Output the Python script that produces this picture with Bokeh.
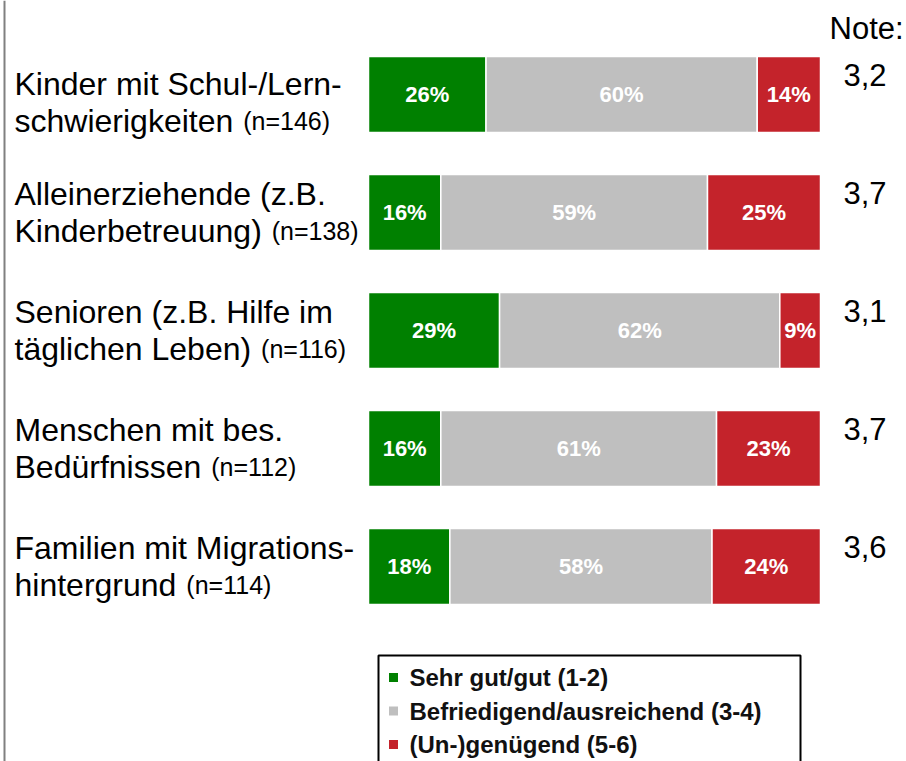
from bokeh.plotting import figure
from bokeh.models import Range1d, ColumnDataSource, Span
from bokeh.embed import file_html
from bokeh.resources import INLINE
from bokeh.core.properties import value

# ---------------- data ----------------
label_line1 = ["Kinder mit Schul-/Lern-", "Alleinerziehende (z.B.", "Senioren (z.B. Hilfe im",
               "Menschen mit bes.", "Familien mit Migrations-"]
label_line2 = ["schwierigkeiten", "Kinderbetreuung)", "täglichen Leben)", "Bedürfnissen", "hintergrund"]
sample_sizes = [146, 138, 116, 112, 114]
sehr_gut = [26, 16, 29, 16, 18]
befriedigend = [60, 59, 62, 61, 58]
ungenuegend = [14, 25, 9, 23, 24]
noten = ["3,2", "3,7", "3,1", "3,7", "3,6"]
legend_labels = ["Sehr gut/gut (1-2)", "Befriedigend/ausreichend (3-4)", "(Un-)genügend (5-6)"]
colors = ["#008000", "#BFBFBF", "#C4232B"]

# ---------------- layout ----------------
W, H = 906, 761
ORIGIN = 0     # screen position of the figure's top-left corner
PX0 = 368      # screen x of 0 %
PXS = 4.52     # px per percent
ROW0 = 94      # screen y of first row centre
PITCH = 118    # px between rows
FONT = "Liberation Sans"
ROW_SHIFT = [8, 0, 0, 0, 0]   # px vertical shift of the label block per row

def dx(px):
    return (px - PX0) / PXS

def dy(py):
    return (py - ROW0) / PITCH

# Arial / Liberation Sans widths (per 1000 em) for measuring line 2
AW = {'s': 500, 'c': 500, 'h': 556, 'w': 722, 'i': 222, 'e': 556, 'r': 333, 'g': 556, 'k': 500,
      't': 278, 'n': 556, 'K': 667, 'b': 556, 'u': 556, ')': 333, 'ä': 556, 'l': 222, 'L': 556,
      ' ': 278, 'B': 667, 'd': 556, 'ü': 556, 'f': 278}

def text_width(s, size):
    return sum(AW.get(ch, 556) for ch in s) * size / 1000.0

p = figure(width=W, height=H, output_backend="svg", toolbar_location=None,
           x_range=Range1d(dx(ORIGIN), dx(ORIGIN + W)), y_range=Range1d(dy(ORIGIN + H), dy(ORIGIN)),
           min_border=0, x_axis_location=None, y_axis_location=None)
p.grid.visible = False
p.outline_line_color = None
p.background_fill_color = "white"
p.border_fill_color = "white"

rows = list(range(len(label_line1)))
series = [sehr_gut, befriedigend, ungenuegend]
left = [0.0] * len(rows)
bar_h = 76 / PITCH
for vals, col in zip(series, colors):
    right = [l + v for l, v in zip(left, vals)]
    src = ColumnDataSource(dict(y=rows, left=left, right=right,
                                mid=[(a + b) / 2 for a, b in zip(left, right)],
                                lab=[f"{v}%" for v in vals]))
    p.hbar(y="y", left="left", right="right", height=bar_h, source=src,
           fill_color=col, line_color="white", line_width=1.5)
    p.text(x="mid", y="y", text="lab", source=src, text_color="white",
           text_font=value(FONT), text_font_style="bold", text_font_size="22px",
           text_align="center", text_baseline="middle")
    left = right

# category labels
LBL = 32
L1 = -19
L2 = 18
y1 = [r + (L1 + s) / PITCH for r, s in zip(rows, ROW_SHIFT)]
y2 = [r + (L2 + s) / PITCH for r, s in zip(rows, ROW_SHIFT)]
p.text(x=[dx(14)] * len(rows), y=y1, text=label_line1,
       text_font=value(FONT), text_font_size=f"{LBL}px", text_color="black",
       text_align="left", text_baseline="alphabetic")
p.text(x=[dx(14)] * len(rows), y=y2, text=label_line2,
       text_font=value(FONT), text_font_size=f"{LBL}px", text_color="black",
       text_align="left", text_baseline="alphabetic")
p.text(x=[dx(14 + text_width(s, LBL) + 10) for s in label_line2], y=y2,
       text=[f"(n={n})" for n in sample_sizes],
       text_font=value(FONT), text_font_size="25px", text_color="black",
       text_align="left", text_baseline="alphabetic")

# grades
p.text(x=[dx(829)], y=[dy(28)], text=["Note:"], text_font=value(FONT), text_font_size="31px",
       text_color="black", text_align="left", text_baseline="alphabetic")
p.text(x=[dx(843)] * len(rows), y=[r + (-20) / PITCH for r in rows], text=noten,
       text_font=value(FONT), text_font_size="31px", text_color="black",
       text_align="left", text_baseline="alphabetic")

# legend
p.quad(left=[dx(378)], right=[dx(800)], top=[dy(655)], bottom=[dy(830)],
       fill_color=None, line_color="black", line_width=2)
ly = [dy(677 + 33.5 * i) for i in range(len(legend_labels))]
p.scatter(x=[dx(393)] * len(ly), y=ly, marker="square", size=9, fill_color=colors, line_color=None)
p.text(x=[dx(409)] * len(ly), y=ly, text=legend_labels, text_font=value(FONT),
       text_font_style="bold", text_font_size="24px", text_color="#111111",
       text_align="left", text_baseline="middle")

# left border line
p.add_layout(Span(location=dx(4), dimension="height", line_color="#808080", line_width=2))

open("out.html", "w").write(file_html(p, INLINE))
